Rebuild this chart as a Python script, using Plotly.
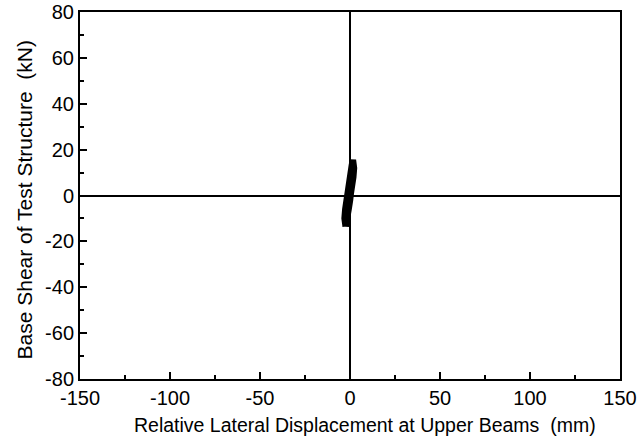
import plotly.graph_objects as go

# Hysteresis response: relative lateral displacement (mm), base shear (kN)
disp = [-2.4, -3.0, -2.6, -2.0, -1.2, -0.4, 0.4, 1.0, 1.6,
        2.2, 1.8, 1.2, 0.4, -0.4, -1.2, -2.0, -2.4,
        -2.8, -2.3, -1.6, -0.8, 0.0, 0.7, 1.3,
        1.9, 1.4, 0.8, 0.0, -0.8, -1.6, -2.4]
shear = [-13.5, -10.0, -6.0, -2.0, 2.0, 6.0, 10.0, 13.0, 15.5,
         12.0, 8.0, 4.0, 0.0, -4.0, -8.0, -11.5, -13.5,
         -9.0, -5.0, -1.0, 3.0, 7.0, 11.0, 14.0,
         11.0, 6.0, 2.0, -2.0, -6.0, -10.0, -13.0]

x_ticks = [-150, -100, -50, 0, 50, 100, 150]
y_ticks = [-80, -60, -40, -20, 0, 20, 40, 60, 80]
x_title = "Relative Lateral Displacement at Upper Beams  (mm)"
y_title = "Base Shear of Test Structure  (kN)"

fig = go.Figure()
fig.add_trace(go.Scatter(x=disp, y=shear, mode="lines",
                         line=dict(color="black", width=6.5), showlegend=False,
                         hoverinfo="skip"))

font = dict(family="Liberation Sans, Arial, sans-serif", color="black")

axis_common = dict(
    showgrid=False, zeroline=True, zerolinecolor="black", zerolinewidth=2,
    showline=True, linecolor="black", linewidth=2, mirror=True,
    ticks="inside", ticklen=7, tickwidth=2, tickcolor="black",
    tickfont=dict(size=20, **font), automargin=False, ticklabeloverflow="allow",
)

fig.update_xaxes(range=[-150, 150], tickvals=x_ticks, ticktext=[str(v) for v in x_ticks],
                 minor=dict(dtick=25, ticks="inside", ticklen=4, tickwidth=2, tickcolor="black"),
                 **axis_common)
fig.update_yaxes(range=[-80, 80], tickvals=y_ticks, ticktext=[str(v) for v in y_ticks],
                 minor=dict(dtick=10, ticks="inside", ticklen=4, tickwidth=2, tickcolor="black"),
                 **axis_common)

fig.add_annotation(text=x_title, xref="paper", yref="paper", x=0.5, y=0,
                   xanchor="center", yanchor="middle", xshift=15, yshift=-46,
                   showarrow=False, font=dict(size=19.5, **font))
fig.add_annotation(text=y_title, xref="paper", yref="paper", x=0, y=0.5,
                   xanchor="center", yanchor="middle", xshift=-56, yshift=-5,
                   textangle=-90, showarrow=False, font=dict(size=21, **font))

fig.update_layout(width=641, height=442, margin=dict(l=80, r=21, t=12, b=63),
                  plot_bgcolor="white", paper_bgcolor="white", font=font)

fig.write_html("out.html", config={"displayModeBar": False},
               post_script="document.body.style.margin='0';document.body.style.overflow='hidden';")
